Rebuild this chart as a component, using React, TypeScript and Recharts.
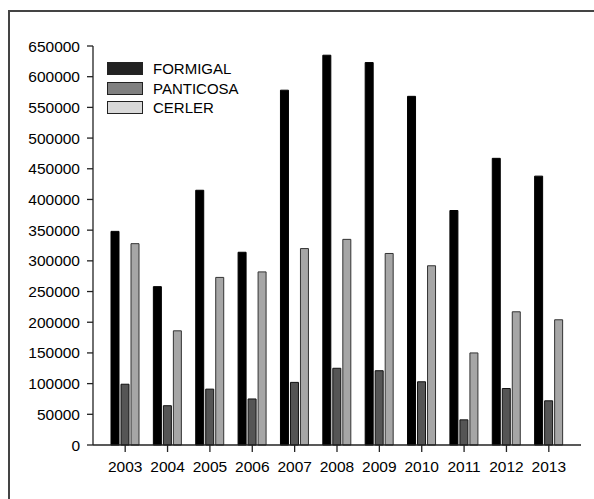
import React from 'react';
import { BarChart, Bar, XAxis, YAxis, Legend } from 'recharts';

const years = ['2003', '2004', '2005', '2006', '2007', '2008', '2009', '2010', '2011', '2012', '2013'];
const formigal = [348000, 258000, 415000, 314000, 578000, 635000, 623000, 568000, 382000, 467000, 438000];
const panticosa = [99000, 64000, 91000, 75000, 102000, 125000, 121000, 103000, 41000, 92000, 72000];
const cerler = [328000, 186000, 273000, 282000, 320000, 335000, 312000, 292000, 150000, 217000, 204000];
const yTicks = [0, 50000, 100000, 150000, 200000, 250000, 300000, 350000, 400000, 450000, 500000, 550000, 600000, 650000];

const seriesNames = ['FORMIGAL', 'PANTICOSA', 'CERLER'];
const legendColors = ['#222222', '#808080', '#d9d9d9'];

const data = years.map((y, i) => ({
  year: y,
  FORMIGAL: formigal[i],
  PANTICOSA: panticosa[i],
  CERLER: cerler[i],
}));

const FONT = 'Liberation Sans, Arial, sans-serif';

const LegendContent = () => (
  <div style={{ fontFamily: FONT, fontSize: 15, color: '#000' }}>
    {seriesNames.map((n, i) => (
      <div key={n} style={{ display: 'flex', alignItems: 'center', height: 19.5 }}>
        <div
          style={{
            width: 34,
            height: 11,
            background: legendColors[i],
            border: '1px solid #222',
            marginRight: 10,
          }}
        />
        <span>{n}</span>
      </div>
    ))}
  </div>
);

export default function App() {
  return (
    <div style={{ position: 'fixed', left: 0, top: 0, width: 594, height: 499, background: '#fff' }}>
      <div
        style={{
          position: 'absolute',
          left: 8,
          top: 10,
          width: 600,
          height: 500,
          borderLeft: '2px solid #444',
          borderTop: '2px solid #444',
        }}
      />
      <div style={{ position: 'absolute', left: 0, top: 0 }}>
        <BarChart
          width={594}
          height={499}
          data={data}
          margin={{ top: 46, right: 13, left: 0, bottom: 24 }}
          barSize={8}
          barGap={2}
        >
          <XAxis
            dataKey="year"
            padding={{ left: 11, right: 11 }}
            height={30}
            tickSize={7}
            tickMargin={9}
            tick={{ fill: '#000', fontSize: 15.5, fontFamily: FONT }}
            axisLine={{ stroke: '#222', strokeWidth: 1.3 }}
            tickLine={{ stroke: '#222', strokeWidth: 1.3 }}
          />
          <XAxis
            xAxisId="top"
            dataKey="year"
            orientation="top"
            height={0}
            tick={false}
            tickLine={false}
            axisLine={{ stroke: '#222', strokeWidth: 1.3 }}
          />
          <YAxis
            width={93}
            domain={[0, 650000]}
            ticks={yTicks}
            interval={0}
            tickSize={6}
            tickMargin={7}
            tick={{ fill: '#000', fontSize: 15.5, fontFamily: FONT }}
            axisLine={{ stroke: '#222', strokeWidth: 1.3 }}
            tickLine={{ stroke: '#222', strokeWidth: 1.3 }}
          />
          <YAxis
            yAxisId="right"
            orientation="right"
            width={0}
            domain={[0, 650000]}
            tick={false}
            tickLine={false}
            axisLine={{ stroke: '#222', strokeWidth: 1.3 }}
          />
          <Legend
            layout="vertical"
            align="center"
            verticalAlign="middle"
            content={<LegendContent />}
            wrapperStyle={{ position: 'absolute', left: 107, top: 59, width: 160 }}
          />
          <Bar dataKey="FORMIGAL" fill="#000" stroke="#000" strokeWidth={1} isAnimationActive={false} />
          <Bar dataKey="PANTICOSA" fill="#555" stroke="#111" strokeWidth={1} isAnimationActive={false} />
          <Bar dataKey="CERLER" fill="#a6a6a6" stroke="#333" strokeWidth={1} isAnimationActive={false} />
        </BarChart>
      </div>
    </div>
  );
}
